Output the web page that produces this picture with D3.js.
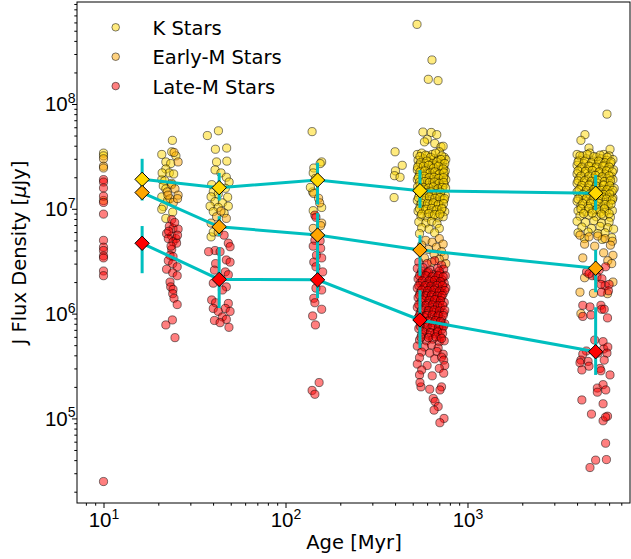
<!DOCTYPE html>
<html>
<head>
<meta charset="utf-8">
<script src="https://cdn.jsdelivr.net/npm/d3@7"></script>
<style>
  body { margin: 0; background: #fff; }
  svg { display: block; font-family: "DejaVu Sans", sans-serif; }
</style>
</head>
<body>
<svg id="chart" width="631" height="559"></svg>
<script>
// Axis ticks and limits
const ageTicks = [10, 100, 1000];
const fluxTicks = [1e5, 1e6, 1e7, 1e8];
const ageLimits = [7.15, 7815];
const fluxLimits = [1.56e4, 9.4e8];

// Median J flux per age bin, with the spread shown as error bars
const binAges = [16.3, 43.2, 150, 548, 5060];
const kMedian  = [1.91e7, 1.59e7, 1.88e7, 1.49e7, 1.41e7];
const kLow     = [1.3e7, 1.2e7, 1.1e7, 1.02e7, 9.7e6];
const kHigh    = [3.0e7, 2.2e7, 2.75e7, 2.34e7, 2.1e7];
const emMedian = [1.43e7, 6.74e6, 5.62e6, 4.04e6, 2.71e6];
const emLow    = [1.2e7, 5.5e6, 3.1e6, 2.3e6, 1.6e6];
const emHigh   = [1.75e7, 8.5e6, 9.1e6, 5.6e6, 4.06e6];
const lmMedian = [4.69e6, 2.12e6, 2.1e6, 8.7e5, 4.33e5];
const lmLow    = [2.43e6, 1.13e6, 1.41e6, 4.7e5, 2.6e5];
const lmHigh   = [6.85e6, 4.3e6, 3.6e6, 1.67e6, 1.15e6];

// Individual stars: [age (Myr), J flux density (uJy)]
const kStars = [
  [10,3.4e7],[10,3.2e7],
  [23.9,4.5e7],[20.9,3.3e7],[23.7,3.5e7],[22.0,2.8e7],[23.4,2.7e7],[22.0,2.4e7],[23.0,2.2e7],[24.3,2.15e7],
  [20.9,1.9e7],[21.7,1.85e7],[23.7,1.75e7],[21.3,1.65e7],[22.0,1.55e7],[20.9,1.3e7],[22.5,1.2e7],[21.3,1.05e7],
  [20.9,9.9e6],[22.0,8.1e6],[24.0,9.3e6],[25.0,3.2e7],[21.0,2.2e7],
  [37.2,5.0e7],[42.8,5.55e7],[41.2,3.7e7],[47.5,3.8e7],[47.6,2.85e7],[41.8,2.8e7],[41.0,2.35e7],[44.2,2.2e7],
  [47.3,2.0e7],[49.0,1.8e7],[39.3,1.7e7],[46.7,1.57e7],[40.1,1.45e7],[42.7,1.38e7],[39.0,1.3e7],[48.1,1.29e7],
  [41.0,1.17e7],[45.0,1.14e7],[38.5,1.06e7],[42.7,1.03e7],[48.5,1.06e7],[40.1,9.4e6],[46.0,9.1e6],[39.0,5.4e6],[40.1,6.0e6],
  [140,5.45e7],[158,2.8e7],[155,2.7e7],[143,2.45e7],[142,2.2e7],[141,1.45e7],[158,1.03e7],[142,9.6e6],[137,1.6e7],[146,1.95e7],
  [528,5.75e8],[638,2.63e8],[609,1.72e8],[689,1.67e8],
  [400,3.5e7],[438,2.6e7],[402,2.3e7],[397,2.07e7],[426,2.0e7],[395,1.28e7],
  [569,5.4e7],[632,5.35e7],[678,5.1e7],[601,4.6e7],[580,4.35e7],[661,4.2e7],[715,3.9e7],[735,3.95e7],
  [530,3.3e7],[560,3.4e7],[600,3.2e7],[640,3.3e7],[700,3.5e7],[745,3.1e7],
  [535,2.9e7],[575,3.0e7],[615,2.8e7],[655,3.0e7],[690,2.9e7],[730,2.8e7],[760,2.95e7],
  [540,2.6e7],[585,2.7e7],[620,2.5e7],[665,2.6e7],[705,2.65e7],[740,2.5e7],
  [530,2.35e7],[560,2.4e7],[600,2.3e7],[645,2.4e7],[680,2.2e7],[720,2.35e7],[755,2.3e7],
  [545,2.1e7],[590,2.15e7],[630,2.05e7],[670,2.1e7],[710,2.0e7],[745,2.05e7],
  [530,1.9e7],[565,1.95e7],[605,1.85e7],[650,1.9e7],[690,1.8e7],[730,1.85e7],[760,1.9e7],
  [550,1.7e7],[590,1.65e7],[625,1.72e7],[665,1.68e7],[705,1.6e7],[745,1.7e7],
  [535,1.5e7],[570,1.55e7],[610,1.45e7],[650,1.5e7],[690,1.48e7],[725,1.52e7],
  [545,1.35e7],[585,1.38e7],[630,1.32e7],[675,1.36e7],[715,1.3e7],[755,1.34e7],
  [530,1.2e7],[570,1.22e7],[610,1.18e7],[655,1.2e7],[700,1.16e7],[740,1.21e7],
  [550,1.08e7],[595,1.05e7],[640,1.1e7],[680,1.06e7],[725,1.02e7],
  [535,9.5e6],[575,9.7e6],[620,9.3e6],[665,9.6e6],[710,9.2e6],[750,9.4e6],
  [555,8.5e6],[600,8.3e6],[645,8.6e6],[690,8.2e6],[735,8.4e6],
  [540,7.5e6],[590,7.3e6],[635,7.6e6],[680,7.2e6],
  [560,6.6e6],[615,6.4e6],[700,6.5e6],[545,5.8e6],[660,5.9e6],
  [548,3.15e7],[588,3.25e7],[628,3.1e7],[668,3.4e7],[722,3.2e7],
  [552,2.75e7],[598,2.85e7],[642,2.7e7],[678,2.8e7],[715,2.95e7],[750,2.7e7],
  [532,2.5e7],[572,2.55e7],[612,2.6e7],[652,2.45e7],[692,2.55e7],[735,2.4e7],
  [548,2.25e7],[583,2.3e7],[622,2.2e7],[662,2.25e7],[702,2.15e7],[742,2.2e7],
  [538,2.0e7],[578,2.05e7],[615,1.98e7],[655,2.0e7],[695,1.95e7],[738,1.98e7],
  [545,1.8e7],[582,1.82e7],[618,1.78e7],[658,1.8e7],[698,1.75e7],[740,1.78e7],
  [532,1.62e7],[572,1.6e7],[612,1.58e7],[648,1.62e7],[688,1.55e7],[728,1.6e7],[758,1.58e7],
  [552,1.43e7],[592,1.42e7],[632,1.45e7],[672,1.4e7],[712,1.44e7],
  [538,1.28e7],[578,1.27e7],[618,1.3e7],[662,1.26e7],[705,1.28e7],[748,1.25e7],
  [558,1.13e7],[602,1.12e7],[648,1.14e7],[692,1.1e7],[738,1.12e7],
  [545,1.0e7],[590,9.9e6],[635,1.01e7],[678,9.8e6],[722,1.0e7],
  [560,8.9e6],[612,9.0e6],[660,8.8e6],[705,8.9e6],
  [5840,8.0e7],[4420,5.1e7],[4200,4.5e7],[4650,3.8e7],[6070,3.7e7],
  [4000,3.3e7],[4300,3.2e7],[4700,3.4e7],[5100,3.1e7],[5600,3.3e7],[6000,3.2e7],
  [4100,2.9e7],[4500,3.0e7],[4900,2.85e7],[5400,3.0e7],[5800,2.9e7],[6300,2.95e7],
  [4000,2.6e7],[4350,2.7e7],[4750,2.55e7],[5200,2.65e7],[5650,2.6e7],[6100,2.7e7],
  [4150,2.4e7],[4550,2.35e7],[5000,2.45e7],[5450,2.3e7],[5900,2.4e7],[6350,2.35e7],
  [4000,2.15e7],[4400,2.2e7],[4800,2.1e7],[5250,2.2e7],[5700,2.15e7],[6150,2.05e7],
  [4100,1.95e7],[4500,1.9e7],[4950,1.98e7],[5350,1.92e7],[5850,1.95e7],[6300,1.9e7],
  [4000,1.75e7],[4300,1.78e7],[4700,1.72e7],[5150,1.76e7],[5550,1.7e7],[6000,1.75e7],
  [4200,1.6e7],[4600,1.58e7],[5050,1.62e7],[5500,1.55e7],[5950,1.6e7],[6400,1.57e7],
  [4000,1.45e7],[4400,1.42e7],[4850,1.47e7],[5300,1.4e7],[5750,1.45e7],[6200,1.43e7],
  [4150,1.3e7],[4550,1.32e7],[5000,1.28e7],[5450,1.33e7],[5900,1.3e7],[6300,1.27e7],
  [4000,1.18e7],[4350,1.2e7],[4750,1.16e7],[5200,1.2e7],[5650,1.15e7],[6100,1.19e7],
  [4200,1.07e7],[4600,1.05e7],[5050,1.09e7],[5500,1.04e7],[5950,1.08e7],
  [4050,9.6e6],[4450,9.4e6],[4900,9.7e6],[5350,9.3e6],[5800,9.5e6],[6250,9.6e6],
  [4150,8.5e6],[4650,8.7e6],[5100,8.4e6],[5600,8.6e6],[6100,8.3e6],
  [4000,7.6e6],[4450,7.4e6],[4950,7.7e6],[5450,7.3e6],[6000,7.5e6],
  [4250,6.7e6],[4800,6.5e6],[5350,6.8e6],[5900,6.6e6],[6350,6.4e6],
  [4050,5.9e6],[4600,6.0e6],[5200,5.8e6],[5700,5.9e6],
  [4400,5.2e6],[5500,5.1e6],[6200,5.3e6],
  [4150,3.2e7],[4550,3.3e7],[4950,3.15e7],[5350,3.25e7],[5850,3.1e7],
  [4050,2.8e7],[4400,2.85e7],[4800,2.75e7],[5250,2.85e7],[5700,2.75e7],[6150,2.8e7],
  [4250,2.5e7],[4650,2.55e7],[5100,2.5e7],[5550,2.55e7],[6000,2.5e7],
  [4050,2.3e7],[4450,2.28e7],[4850,2.32e7],[5300,2.25e7],[5800,2.3e7],[6250,2.25e7],
  [4200,2.05e7],[4650,2.05e7],[5050,2.08e7],[5500,2.02e7],[6000,2.06e7],
  [4050,1.85e7],[4400,1.85e7],[4800,1.83e7],[5200,1.87e7],[5650,1.82e7],[6100,1.85e7],
  [4250,1.67e7],[4650,1.68e7],[5100,1.65e7],[5600,1.68e7],[6050,1.66e7],
  [4100,1.52e7],[4500,1.5e7],[4950,1.53e7],[5400,1.5e7],[5850,1.52e7],[6300,1.5e7],
  [4300,1.37e7],[4700,1.38e7],[5150,1.36e7],[5600,1.37e7],[6050,1.38e7],
  [4050,1.24e7],[4500,1.25e7],[4900,1.23e7],[5350,1.25e7],[5800,1.24e7],[6250,1.22e7],
  [4300,1.12e7],[4750,1.12e7],[5250,1.13e7],[5700,1.1e7],[6150,1.11e7],
  [4200,1.0e7],[4650,1.01e7],[5150,9.9e6],[5650,1.0e7],
  [4350,9.0e6],[4850,9.1e6],[5450,8.9e6],[6000,9.0e6]
];

const earlyMStars = [
  [10,3.0e7],[10,2.55e7],[10,2.45e7],[10,1.2e7],
  [24.4,3.45e7],[25.7,2.8e7],[23.7,1.7e7],[24.7,1.55e7],[22.4,1.45e7],[25.7,1.35e7],[23.2,1.25e7],
  [24.2,1.15e7],[25.5,1.25e7],[22.6,1.35e7],
  [41.8,8.4e6],[47.3,8.1e6],[42.7,6.0e6],[39.0,7.3e6],[44.2,9.5e6],
  [143,1.4e7],[152,1.26e7],[154,1.14e7],[158,7.3e6],[156,6.9e6],[142,6.5e6],
  [590,5.0e6],[640,4.8e6],[700,5.2e6],[560,4.5e6],[675,4.3e6],[735,4.6e6],[610,4.1e6],
  [720,3.9e6],[655,3.7e6],[745,3.5e6],[580,3.4e6],[700,3.3e6],[635,3.1e6],[760,3.0e6],
  [4150,5.6e6],[4650,5.4e6],[5200,5.5e6],[5700,5.2e6],[6250,4.9e6],[4400,4.6e6],[5000,4.4e6],
  [6100,4.5e6],[5600,3.8e6],[6300,3.6e6],[4300,3.4e6],[5900,3.2e6],[6200,3.0e6],
  [4150,1.6e6],[4920,1.56e6],[4200,1.0e6],[5880,1.55e6],[4400,2.2e6],[6300,2.0e6]
];

const lateMStars = [
  [10,1.9e7],[10,1.8e7],[10,1.58e7],[10,1.32e7],[10,1.15e7],[10,8.9e6],[10,5.0e6],[10,4.3e6],
  [10,4.0e6],[10,3.55e6],[10,3.4e6],[10,2.55e6],[10,2.3e6],[10,2.5e4],
  [23.7,7.9e6],[23.0,6.8e6],[24.1,6.5e6],[25.7,6.4e6],[22.2,5.8e6],[23.7,5.5e6],[25.0,5.2e6],[22.7,5.2e6],
  [24.1,4.85e6],[25.2,4.7e6],[23.7,4.1e6],[23.2,3.6e6],[24.1,3.5e6],[22.7,3.2e6],[24.0,3.0e6],[25.4,2.8e6],
  [22.2,2.65e6],[24.0,2.45e6],[25.4,2.3e6],[23.2,2.0e6],[23.4,1.8e6],[24.1,1.7e6],[24.0,1.55e6],[24.4,1.4e6],
  [25.4,1.22e6],[23.9,8.7e5],[22.0,7.8e5],[24.7,5.9e5],[24.6,7.4e6],[22.8,6.1e6],[25.5,5.6e6],[23.5,4.4e6],
  [46.0,5.6e6],[48.5,4.7e6],[49.6,4.35e6],[41.0,4.0e6],[43.7,3.9e6],[37.8,3.9e6],[47.3,3.25e6],[49.6,3.1e6],
  [41.3,3.0e6],[40.7,2.6e6],[46.7,2.5e6],[48.5,2.35e6],[40.1,1.95e6],[47.3,1.8e6],[45.0,1.68e6],[39.3,1.35e6],
  [41.3,1.27e6],[48.5,1.25e6],[46.7,1.12e6],[49.6,1.05e6],[40.1,1.12e6],[42.7,1.05e6],[45.0,9.3e5],[47.3,8.8e5],
  [40.7,8.6e5],[43.7,8.2e5],[48.9,7.4e5],
  [145,8.7e6],[147,8.3e6],[145,5.0e6],[155,4.95e6],[142,4.4e6],[156,4.2e6],[148,3.6e6],[158,3.4e6],
  [143,3.1e6],[147,2.8e6],[160,2.5e6],[147,1.75e6],[158,1.68e6],[143,1.4e6],[145,1.27e6],[158,1.1e6],
  [141,9.5e5],[146,7.8e5],[153,2.2e5],[140,1.85e5],[145,1.7e5],
  [540,3.1e6],[600,3.0e6],[660,3.2e6],[720,2.9e6],
  [530,2.7e6],[570,2.75e6],[625,2.6e6],[685,2.7e6],[740,2.65e6],
  [555,2.4e6],[600,2.45e6],[650,2.35e6],[705,2.4e6],[755,2.3e6],
  [535,2.15e6],[580,2.2e6],[630,2.1e6],[675,2.2e6],[725,2.1e6],
  [550,1.95e6],[600,1.9e6],[645,1.98e6],[695,1.92e6],[745,1.95e6],
  [530,1.75e6],[575,1.78e6],[620,1.72e6],[665,1.75e6],[715,1.7e6],[760,1.76e6],
  [550,1.58e6],[595,1.55e6],[640,1.6e6],[690,1.57e6],[735,1.55e6],
  [535,1.42e6],[580,1.4e6],[625,1.45e6],[670,1.38e6],[715,1.42e6],
  [555,1.28e6],[605,1.25e6],[650,1.3e6],[700,1.26e6],[745,1.28e6],
  [530,1.15e6],[575,1.12e6],[620,1.16e6],[665,1.1e6],[710,1.14e6],
  [550,1.02e6],[600,1.0e6],[645,1.04e6],[690,9.8e5],[740,1.01e6],
  [535,9.1e5],[580,9.3e5],[625,8.9e5],[675,9.2e5],[720,8.8e5],
  [555,8.1e5],[605,7.9e5],[650,8.2e5],[700,7.8e5],[750,8.0e5],
  [540,7.2e5],[585,7.0e5],[630,7.3e5],[680,6.9e5],[725,7.1e5],
  [560,6.3e5],[615,6.2e5],[660,6.4e5],[710,6.0e5],
  [545,5.6e5],[595,5.5e5],[645,5.7e5],[700,5.4e5],[745,5.5e5],
  [530,4.9e5],[580,4.8e5],[635,5.0e5],[690,4.7e5],
  [560,4.3e5],[620,4.2e5],[680,4.35e5],[735,4.1e5],
  [545,3.8e5],[660,3.7e5],[720,3.85e5],[740,3.6e5],
  [530,3.3e5],[600,3.2e5],[750,3.2e5],
  [560,2.9e5],[700,3.0e5],[545,2.6e5],[640,2.55e5],[740,2.7e5],
  [555,2.0e5],[548,2.2e5],[620,1.9e5],[720,2.0e5],[706,1.87e5],[648,1.55e5],[663,1.45e5],
  [690,1.3e5],[655,1.2e5],[743,1.0e5],[705,9.1e4],
  [560,2.55e6],[610,2.5e6],[700,2.55e6],
  [545,2.3e6],[590,2.3e6],[640,2.25e6],[690,2.3e6],[735,2.25e6],
  [565,2.05e6],[615,2.05e6],[660,2.08e6],[710,2.02e6],
  [540,1.85e6],[585,1.85e6],[630,1.83e6],[680,1.86e6],[728,1.85e6],
  [560,1.68e6],[605,1.66e6],[655,1.68e6],[700,1.64e6],[750,1.66e6],
  [545,1.5e6],[590,1.48e6],[635,1.5e6],[680,1.47e6],[725,1.49e6],
  [565,1.35e6],[615,1.34e6],[660,1.36e6],[710,1.33e6],
  [540,1.22e6],[590,1.2e6],[640,1.21e6],[685,1.19e6],[730,1.2e6],
  [560,1.08e6],[610,1.07e6],[655,1.08e6],[700,1.06e6],[750,1.08e6],
  [545,9.6e5],[595,9.6e5],[640,9.7e5],[690,9.5e5],[735,9.6e5],
  [565,8.6e5],[615,8.5e5],[665,8.6e5],[710,8.4e5],
  [550,7.6e5],[600,7.5e5],[645,7.7e5],[695,7.4e5],[740,7.6e5],
  [570,6.7e5],[625,6.6e5],[685,6.7e5],[730,6.5e5],
  [555,5.95e5],[610,5.9e5],[670,6.0e5],[720,5.8e5],
  [4510,2.5e6],[4840,2.3e6],[5290,2.6e6],[5740,2.8e6],[4650,2.4e6],[5150,2.25e6],[5480,2.15e6],[5700,1.85e6],
  [5410,1.9e6],[6000,1.9e6],[5950,1.65e6],[5450,1.6e6],
  [4300,1.2e6],[4710,1.16e6],[5410,1.2e6],[5460,1.1e6],[5640,1.1e6],[5880,9.1e5],[4300,9.4e5],[4770,9.7e5],
  [5000,5.6e5],[5560,5.4e5],[4500,4.4e5],[4300,4.1e5],[5600,4.6e5],[5900,4.8e5],
  [4200,3.6e5],[4150,3.4e5],[4600,3.5e5],[4650,3.15e5],[4250,2.9e5],[5210,4.2e5],[5840,4.2e5],[5640,3.6e5],
  [5350,3.0e5],[5410,2.85e5],[6070,2.6e5],
  [5170,1.95e5],[5560,2.1e5],[5750,1.87e5],[5170,1.78e5],[4250,1.5e5],[5560,1.38e5],[4800,1.1e5],[5880,1.05e5],
  [5560,9.5e4],[5740,1.03e5],[5740,5.8e4],[5060,4.0e4],[5800,4.05e4],[4710,3.4e4]
];

const legendLabels = ["K Stars", "Early-M Stars", "Late-M Stars"];
const starColors = ["#FFD700", "#FFA500", "#FF0000"];

// Layout
const plot = { left: 77, right: 630, top: 2, bottom: 503 };
const svg = d3.select("#chart");

const x = d3.scaleLog().domain(ageLimits).range([plot.left, plot.right]);
const y = d3.scaleLog().domain(fluxLimits).range([plot.bottom, plot.top]);

const FS = 19.5, TICK_FS = 20.5, SUP = 14;

// Scatter layers, drawn K, then early-M, then late-M
[kStars, earlyMStars, lateMStars].forEach((set, i) => {
  svg.append("g")
    .selectAll("circle")
    .data(set)
    .join("circle")
    .attr("cx", d => x(d[0]))
    .attr("cy", d => y(d[1]))
    .attr("r", 4.1)
    .attr("fill", starColors[i])
    .attr("fill-opacity", 0.5)
    .attr("stroke", "#000")
    .attr("stroke-opacity", 0.5)
    .attr("stroke-width", 1);
});

// Median trends with error bars and diamond markers
const trends = [
  { med: kMedian, lo: kLow, hi: kHigh, color: starColors[0] },
  { med: emMedian, lo: emLow, hi: emHigh, color: starColors[1] },
  { med: lmMedian, lo: lmLow, hi: lmHigh, color: starColors[2] }
];
const cyan = "#00BFBF";
const line = d3.line().x(d => x(d[0])).y(d => y(d[1]));
const trendG = svg.append("g");
trends.forEach(t => {
  const pts = binAges.map((a, i) => [a, t.med[i]]);
  trendG.append("path")
    .attr("d", line(pts))
    .attr("fill", "none")
    .attr("stroke", cyan)
    .attr("stroke-width", 3);
  trendG.selectAll(null)
    .data(binAges.map((a, i) => [a, t.lo[i], t.hi[i]]))
    .join("line")
    .attr("x1", d => x(d[0])).attr("x2", d => x(d[0]))
    .attr("y1", d => y(d[1])).attr("y2", d => y(d[2]))
    .attr("stroke", cyan)
    .attr("stroke-width", 3);
});
const diamond = "M0,-7.2L7.2,0L0,7.2L-7.2,0Z";
trends.forEach(t => {
  trendG.selectAll(null)
    .data(binAges.map((a, i) => [a, t.med[i]]))
    .join("path")
    .attr("d", diamond)
    .attr("transform", d => `translate(${x(d[0])},${y(d[1])})`)
    .attr("fill", t.color)
    .attr("stroke", "#000")
    .attr("stroke-width", 1);
});

// Axes: major ticks with power-of-ten labels, plus minor ticks
function powerLabel(sel) {
  sel.each(function (d) {
    const t = d3.select(this).text(null);
    t.append("tspan").text("10");
    t.append("tspan").attr("dy", -8.5).attr("font-size", SUP).text(Math.round(Math.log10(d)));
  });
}

const xMajor = svg.append("g")
  .attr("transform", `translate(0,${plot.bottom})`)
  .call(d3.axisBottom(x).tickValues(ageTicks).tickSize(5).tickSizeOuter(0));
xMajor.selectAll(".tick text")
  .attr("y", 24).attr("dy", null)
  .attr("font-size", TICK_FS).attr("fill", "#000")
  .call(powerLabel);

svg.append("g")
  .attr("transform", `translate(0,${plot.bottom})`)
  .call(d3.axisBottom(x).tickValues(x.ticks().filter(v => !ageTicks.includes(v))).tickSize(2.7).tickFormat(() => "").tickSizeOuter(0));

const yMajor = svg.append("g")
  .attr("transform", `translate(${plot.left},0)`)
  .call(d3.axisLeft(y).tickValues(fluxTicks).tickSize(5).tickSizeOuter(0));
yMajor.selectAll(".tick text")
  .attr("x", -1.5).attr("dy", 7)
  .attr("font-size", TICK_FS).attr("fill", "#000")
  .call(powerLabel);

svg.append("g")
  .attr("transform", `translate(${plot.left},0)`)
  .call(d3.axisLeft(y).tickValues(y.ticks().filter(v => !fluxTicks.some(f => Math.abs(f - v) / f < 1e-9))).tickSize(2.7).tickFormat(() => "").tickSizeOuter(0));

svg.selectAll(".domain").remove();
svg.selectAll(".tick line").attr("stroke", "#000").attr("stroke-width", 1);

// Frame
svg.append("rect")
  .attr("x", plot.left).attr("y", plot.top)
  .attr("width", plot.right - plot.left).attr("height", plot.bottom - plot.top)
  .attr("fill", "none").attr("stroke", "#000").attr("stroke-width", 1);

// Axis titles
svg.append("text")
  .attr("x", 354).attr("y", 549)
  .attr("text-anchor", "middle").attr("font-size", FS)
  .text("Age [Myr]");

const yTitle = svg.append("text")
  .attr("transform", `translate(26,${(plot.top + plot.bottom) / 2}) rotate(-90)`)
  .attr("text-anchor", "middle").attr("font-size", FS);
yTitle.append("tspan").text("J Flux Density [");
yTitle.append("tspan").attr("font-style", "italic").text("\u03bc");
yTitle.append("tspan").text("Jy]");

// Legend
const legend = svg.append("g");
legendLabels.forEach((lab, i) => {
  const cy = 27.3 + i * 29.4;
  legend.append("circle")
    .attr("cx", 115.7).attr("cy", cy).attr("r", 3.8)
    .attr("fill", starColors[i]).attr("fill-opacity", 0.5)
    .attr("stroke", "#000").attr("stroke-opacity", 0.5).attr("stroke-width", 1);
  legend.append("text")
    .attr("x", 152.5).attr("y", cy + 7.4)
    .attr("font-size", FS)
    .text(lab);
});
</script>
</body>
</html>
